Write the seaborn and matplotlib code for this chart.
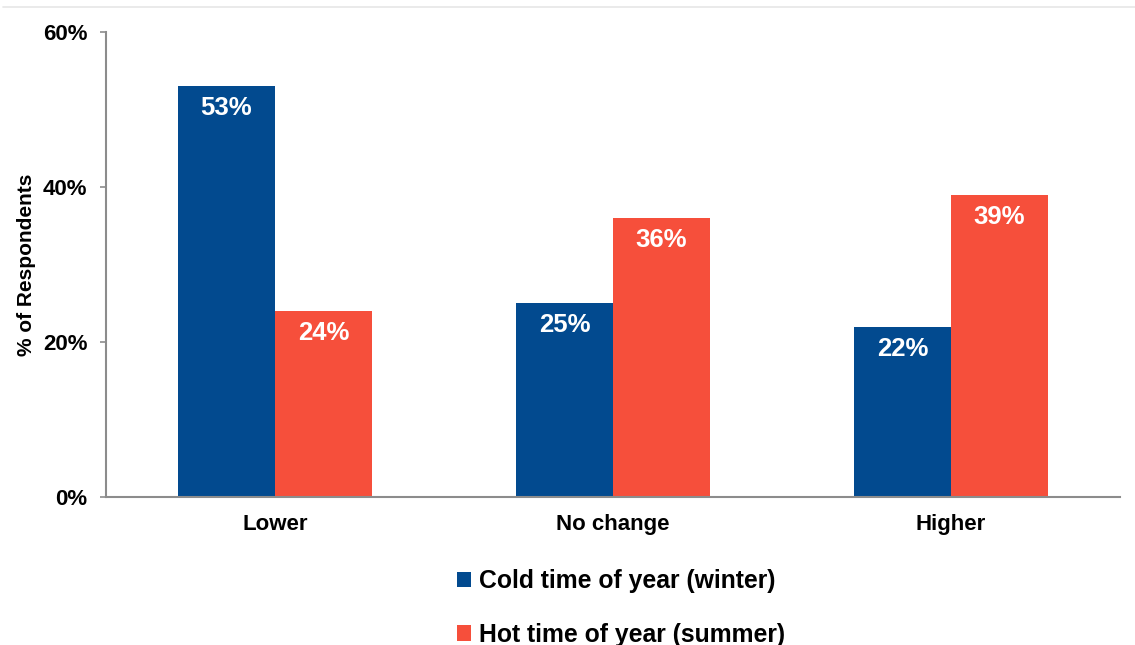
import matplotlib
matplotlib.use("Agg")
import matplotlib.pyplot as plt
from matplotlib.lines import Line2D
from matplotlib.patches import Patch
import seaborn as sns
import pandas as pd

categories = ["Lower", "No change", "Higher"]
series_names = ["Cold time of year (winter)", "Hot time of year (summer)"]
winter = [53, 25, 22]
summer = [24, 36, 39]
y_ticks = [0, 20, 40, 60]
colors = ["#024A8F", "#F64F3B"]

df = pd.DataFrame({
    "category": categories * 2,
    "series": [series_names[0]] * 3 + [series_names[1]] * 3,
    "value": winter + summer,
})

sns.set_theme(style="white")
plt.rcParams["font.family"] = ["Liberation Sans", "DejaVu Sans"]
plt.rcParams["font.weight"] = "bold"
plt.rcParams["text.color"] = "black"
plt.rcParams["xtick.color"] = "black"
plt.rcParams["ytick.color"] = "black"
plt.rcParams["axes.labelcolor"] = "black"

fig = plt.figure(figsize=(11.35, 6.45), dpi=100)
ax = fig.add_axes([106 / 1135, 1 - 497 / 645, (1120 - 106) / 1135, (497 - 32) / 645])

sns.barplot(data=df, x="category", y="value", hue="series", order=categories,
            hue_order=series_names, palette=colors, saturation=1, width=0.574,
            linewidth=0, ax=ax, legend=False)

ax.set_xlim(-0.5, 2.5)
ax.set_ylim(0, 60)
ax.set_yticks(y_ticks)
ax.set_yticklabels([f"{t}%" for t in y_ticks], fontsize=16, fontweight="bold")
ax.set_xticks(range(len(categories)))
ax.set_xticklabels(categories, fontsize=16, fontweight="bold")
ax.tick_params(axis="y", length=4.5, width=1.2, color="#8c8c8c", labelcolor="black",
               pad=9, left=True)
ax.tick_params(axis="x", length=0, pad=12, labelcolor="black")
ax.set_xlabel("")
ax.set_ylabel("% of Respondents", fontsize=15, fontweight="bold", labelpad=5,
              color="black")

for side in ["top", "right"]:
    ax.spines[side].set_visible(False)
for side in ["left", "bottom"]:
    ax.spines[side].set_color("#8c8c8c")
    ax.spines[side].set_linewidth(1.5)

for container in ax.containers:
    for bar in container:
        h = bar.get_height()
        ax.annotate(f"{h:.0f}%", (bar.get_x() + bar.get_width() / 2, h),
                    xytext=(0, -22), textcoords="offset pixels",
                    ha="center", va="center", color="white",
                    fontsize=18.5, fontweight="bold")

handles = [Patch(facecolor=c, edgecolor="none") for c in colors]
leg = fig.legend(handles, series_names, loc="center",
                 bbox_to_anchor=(0.547, 1 - 608 / 645), frameon=False,
                 prop={"weight": "bold", "size": 17.8},
                 handlelength=0.58, handleheight=0.58, handletextpad=0.32,
                 labelspacing=1.18)
for t in leg.get_texts():
    t.set_color("black")

fig.add_artist(Line2D([3 / 1135, 1], [1 - 7 / 645, 1 - 7 / 645],
                      color="#e6e6e6", linewidth=1.2))

fig.savefig("out.png", dpi=100)
